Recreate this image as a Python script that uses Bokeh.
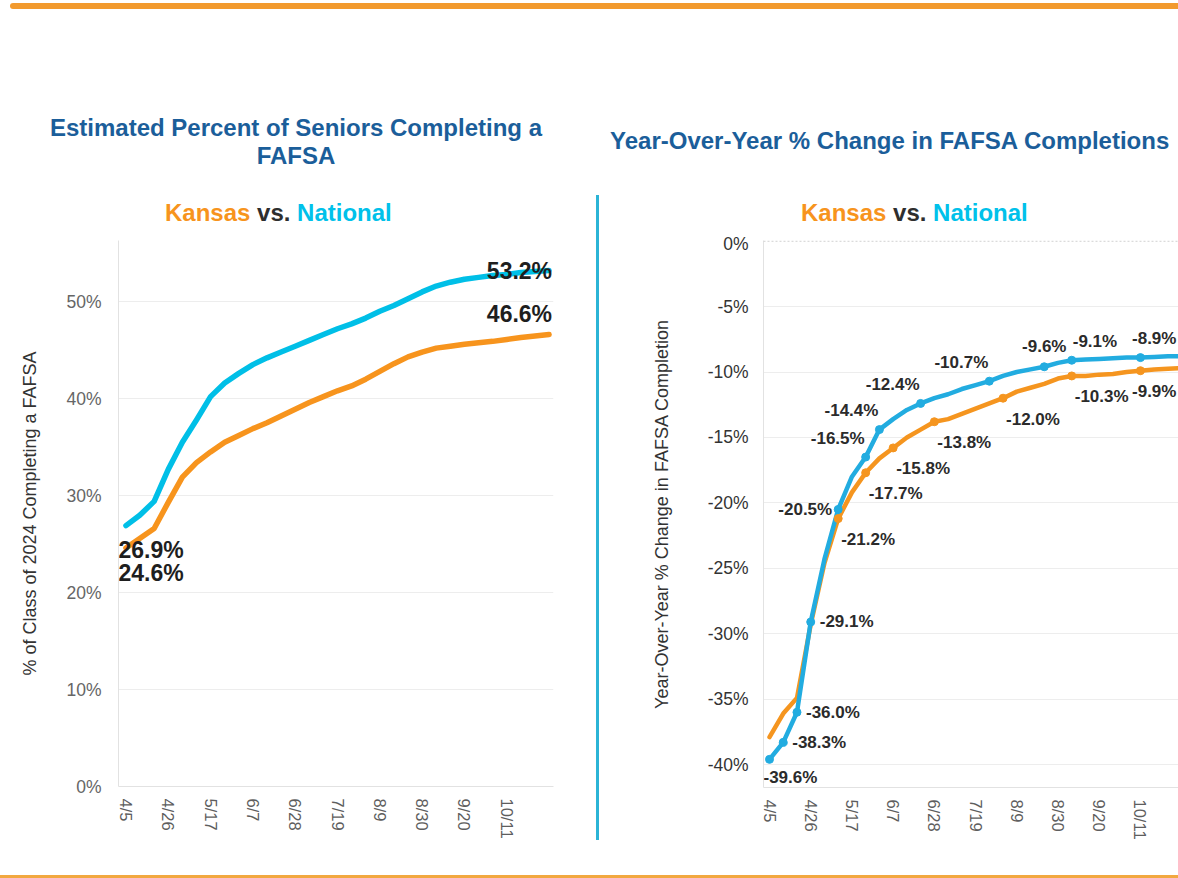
import pandas as pd
from bokeh.plotting import figure
from bokeh.layouts import row, column
from bokeh.models import (ColumnDataSource, FixedTicker, PrintfTickFormatter,
                          LabelSet, Span, Range1d, Div)
from bokeh.embed import file_html
from bokeh.resources import INLINE
from bokeh.core.properties import value

# ---------------- data ----------------
weeks = ["4/5", "4/12", "4/19", "4/26", "5/3", "5/10", "5/17", "5/24", "5/31", "6/7",
         "6/14", "6/21", "6/28", "7/5", "7/12", "7/19", "7/26", "8/2", "8/9", "8/16",
         "8/23", "8/30", "9/6", "9/13", "9/20", "9/27", "10/4", "10/11", "10/18", "10/25", "11/1"]
tick_labels = ["4/5", "4/26", "5/17", "6/7", "6/28", "7/19", "8/9", "8/30", "9/20", "10/11"]

national_pct = [26.9, 28.0, 29.4, 32.7, 35.5, 37.8, 40.2, 41.6, 42.6, 43.5,
                44.2, 44.8, 45.4, 46.0, 46.6, 47.2, 47.7, 48.3, 49.0, 49.6,
                50.3, 51.0, 51.6, 52.0, 52.3, 52.5, 52.7, 52.8, 53.0, 53.1, 53.2]
kansas_pct = [24.6, 25.6, 26.6, 29.3, 31.9, 33.4, 34.5, 35.5, 36.2, 36.9,
              37.5, 38.2, 38.9, 39.6, 40.2, 40.8, 41.3, 42.0, 42.8, 43.6,
              44.3, 44.8, 45.2, 45.4, 45.6, 45.75, 45.9, 46.1, 46.3, 46.45, 46.6]

national_yoy = [-39.6, -38.3, -36.0, -29.1, -24.3, -20.5, -18.0, -16.5, -14.4, -13.6,
                -12.9, -12.4, -12.0, -11.7, -11.3, -11.0, -10.7, -10.3, -10.0, -9.8,
                -9.6, -9.3, -9.1, -9.05, -9.0, -8.95, -8.9, -8.9, -8.85, -8.8, -8.8]
kansas_yoy = [-37.9, -36.1, -34.9, -29.3, -24.6, -21.2, -19.2, -17.7, -16.6, -15.8,
              -15.0, -14.4, -13.8, -13.6, -13.2, -12.8, -12.4, -12.0, -11.5, -11.2,
              -10.9, -10.5, -10.3, -10.3, -10.2, -10.15, -10.0, -9.9, -9.8, -9.75, -9.7]

# which weekly points carry a data label on the YoY chart, and where the label sits
national_label_idx = [0, 1, 2, 3, 5, 7, 8, 11, 16, 20, 22, 27]
national_label_pos = ["below", "right", "right", "right", "left", "above-left",
                      "above-left", "above-left", "above-left", "above", "above-right", "above-edge"]
kansas_label_idx = [5, 7, 9, 12, 17, 22, 27]
kansas_label_pos = ["below-right"] * 6 + ["below-edge"]

# ---------------- styling ----------------
FONT = "Liberation Sans"
ORANGE = "#F7941D"
CYAN = "#00BFE7"
ORANGE2 = "#F5951F"
BLUE2 = "#22ACE0"
TITLE = "#1B5E9A"
GRID = "#EDEDED"
AXIS = "#E2E2E2"
RULE = "#F29A2E"

PLACE = {  # (dx px, dy px downward, align)
    "below": (-6, 18, "left"),
    "right": (9, 0, "left"),
    "left": (-6, 0, "right"),
    "above-left": (-1, -19, "right"),
    "above": (0, -20, "center"),
    "above-right": (1, -19, "left"),
    "above-edge": (36, -19, "right"),
    "below-right": (3, 21, "left"),
    "below-edge": (36, 21, "right"),
    "start-upper": (-7.5, 24, "left"),
    "start-lower": (-7.5, 25, "left"),
    "end-on": (3, 0, "right"),
    "end-above": (3, -21, "right"),
}

base = pd.Timestamp("2024-04-05")


def to_day(s):
    m, d = map(int, s.split("/"))
    return (pd.Timestamp(2024, m, d) - base).days


x_days = [to_day(w) for w in weeks]
tick_pos = [to_day(t) for t in tick_labels]
overrides = {tp: tl for tp, tl in zip(tick_pos, tick_labels)}


def style(p, ytick_color):
    p.outline_line_color = None
    p.xgrid.grid_line_color = None
    p.ygrid.grid_line_color = GRID
    p.ygrid.grid_line_width = 1
    for ax in (p.xaxis[0], p.yaxis[0]):
        ax.axis_line_color = AXIS
        ax.axis_line_width = 1
        ax.major_tick_line_color = None
        ax.minor_tick_line_color = None
        ax.major_label_text_font = FONT
        ax.axis_label_text_font = FONT
        ax.axis_label_text_font_style = "normal"
        ax.axis_label_text_color = "#333333"
        ax.axis_label_text_font_size = "18px"
    p.xaxis.ticker = FixedTicker(ticks=tick_pos)
    p.xaxis.major_label_overrides = overrides
    p.xaxis.major_label_orientation = "vertical"
    p.xaxis.major_label_text_font_size = "16.5px"
    p.xaxis.major_label_text_color = "#5E5E5E"
    p.xaxis.major_label_standoff = 6
    p.yaxis.formatter = PrintfTickFormatter(format="%d%%")
    p.yaxis.major_label_text_color = ytick_color
    p.yaxis.major_label_text_font_size = "17.5px"


def label_source(xs, ys, places):
    dx = [PLACE[k][0] for k in places]
    dy = [-PLACE[k][1] for k in places]
    al = [PLACE[k][2] for k in places]
    return ColumnDataSource(dict(x=xs, y=ys, text=[f"{v:.1f}%" for v in ys],
                                 dx=dx, dy=dy, align=al))


TXT = f"font-family:'{FONT}';font-weight:bold;font-size:24px;line-height:28px;white-space:nowrap;"
HEAD_H = 224


def header(width, title_html, title_left, title_width, title_top, title_align, sub_left):
    sub = (f'<span style="color:{ORANGE}">Kansas</span> '
           f'<span style="color:#2E2E2E">vs.</span> '
           f'<span style="color:#00C1EA">National</span>')
    html = (f'<div style="position:relative;width:{width}px;height:{HEAD_H}px;">'
            f'<div style="position:absolute;left:{title_left}px;top:{title_top}px;width:{title_width}px;'
            f'text-align:{title_align};color:{TITLE};{TXT}">{title_html}</div>'
            f'<div style="position:absolute;left:{sub_left}px;top:190px;{TXT}">{sub}</div>'
            f'</div>')
    return Div(text=html, width=width, height=HEAD_H, margin=(0, 0, 0, 0))


LW, RW = 596, 579
FH = 641

# ---------------- left chart ----------------
p1 = figure(width=LW, height=FH, x_range=Range1d(-3.7, 212.2), y_range=Range1d(0, 56.3),
            output_backend="svg", toolbar_location=None,
            min_border_left=118, min_border_right=43, min_border_top=7, min_border_bottom=88)
style(p1, "#666666")
p1.yaxis.ticker = FixedTicker(ticks=[0, 10, 20, 30, 40, 50])
p1.yaxis.major_label_standoff = 11
p1.yaxis.axis_label = "% of Class of 2024 Completing a FAFSA"
p1.yaxis.axis_label_standoff = 23

p1.line(x_days, kansas_pct, line_width=5.5, color=ORANGE, line_cap="round", line_join="round")
p1.line(x_days, national_pct, line_width=5.5, color=CYAN, line_cap="round", line_join="round")

left_src = label_source([x_days[0], x_days[0], x_days[-1], x_days[-1]],
                        [national_pct[0], kansas_pct[0], national_pct[-1], kansas_pct[-1]],
                        ["start-upper", "start-lower", "end-on", "end-above"])
p1.add_layout(LabelSet(x="x", y="y", text="text", x_offset="dx", y_offset="dy",
                       text_align="align", text_baseline="middle", source=left_src,
                       text_font=value(FONT), text_font_size="23px",
                       text_font_style="bold", text_color="#1E1E1E"))

# ---------------- right chart ----------------
p2 = figure(width=RW, height=FH, x_range=Range1d(-3.06, 208.4), y_range=Range1d(-41.75, 0.05),
            output_backend="svg", toolbar_location=None,
            min_border_left=164, min_border_right=0, min_border_top=7, min_border_bottom=87)
style(p2, "#333333")
p2.yaxis.ticker = FixedTicker(ticks=[-40, -35, -30, -25, -20, -15, -10, -5, 0])
p2.ygrid.ticker = FixedTicker(ticks=[-40, -35, -30, -25, -20, -15, -10, -5])
p2.yaxis.major_label_standoff = 9
p2.yaxis.axis_label = "Year-Over-Year % Change in FAFSA Completion"
p2.yaxis.axis_label_standoff = 33
p2.add_layout(Span(location=0, dimension="width", line_color="#C8C8C8",
                   line_dash="2 2", line_width=1))

p2.line(x_days, kansas_yoy, line_width=4.5, color=ORANGE2, line_cap="round", line_join="round")
p2.line(x_days, national_yoy, line_width=4.5, color=BLUE2, line_cap="round", line_join="round")

kx = [x_days[i] for i in kansas_label_idx]
ky = [kansas_yoy[i] for i in kansas_label_idx]
nx = [x_days[i] for i in national_label_idx]
ny = [national_yoy[i] for i in national_label_idx]
p2.scatter(kx, ky, size=8, color=ORANGE2)
p2.scatter(nx, ny, size=8, color=BLUE2)

for src in (label_source(kx, ky, kansas_label_pos), label_source(nx, ny, national_label_pos)):
    p2.add_layout(LabelSet(x="x", y="y", text="text", x_offset="dx", y_offset="dy",
                           text_align="align", text_baseline="middle", source=src,
                           text_font=value(FONT), text_font_size="17px",
                           text_font_style="bold", text_color="#2B2B2B"))

# ---------------- page furniture ----------------
left_head = header(LW, "Estimated Percent of Seniors Completing a<br>FAFSA", 0, 592, 105, "center", 165)
right_head = header(RW, "Year-Over-Year % Change in FAFSA Completions", 11, 570, 118, "left", 202)

top_rule = Div(text=('<div style="position:relative;width:1178px;height:9px;">'
                     f'<div style="position:absolute;left:10px;top:0px;width:1168px;height:6px;'
                     f'background:{RULE};border-radius:3px 0 0 3px;"></div></div>'),
               width=1178, height=9, margin=(0, 0, 0, 0))
divider = Div(text='<div style="width:3px;height:645px;background:#2BB4D6;"></div>',
              width=3, height=645, margin=(186, 0, 0, 0))
bottom_rule = Div(text=('<div style="position:relative;width:1178px;height:3px;">'
                        '<div style="position:absolute;left:0px;top:0px;width:1178px;height:2px;'
                        'background:#F2A840;"></div></div>'),
                  width=1178, height=3, margin=(1, 0, 0, 0),
                  styles={"background-color": "#F2A840"})

layout = column(
    top_rule,
    row(column(left_head, p1, spacing=0), divider, column(right_head, p2, spacing=0), spacing=0),
    bottom_rule, spacing=0)
open("out.html", "w").write(file_html(layout, INLINE))
